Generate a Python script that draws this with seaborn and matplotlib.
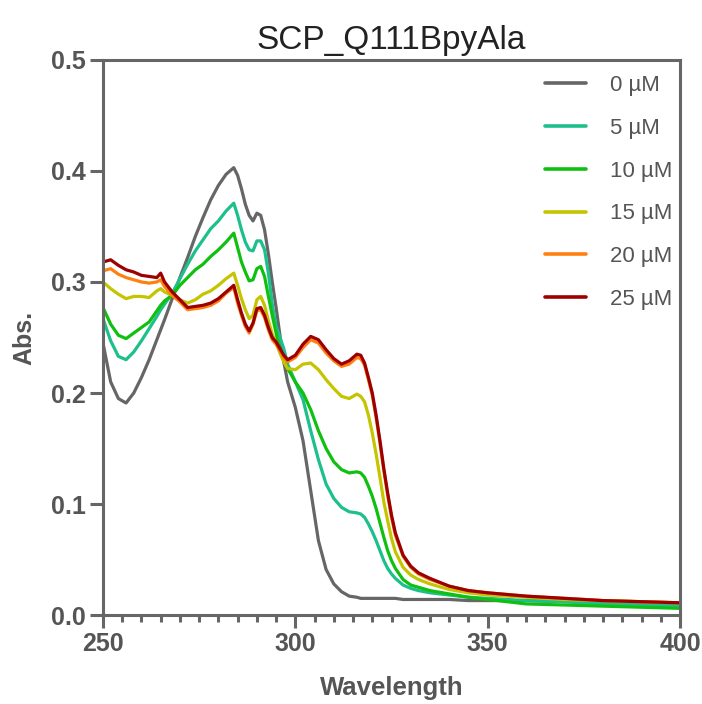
import numpy as np
import pandas as pd
import matplotlib
matplotlib.use("Agg")
import matplotlib.pyplot as plt
import matplotlib.ticker as mticker
import seaborn as sns

# ---------------------------------------------------------------------------
# Data
# ---------------------------------------------------------------------------

wavelength = [250, 252, 254, 256, 258, 260, 262, 264, 265, 266, 268, 270, 272, 274,
              276, 278, 280, 282, 284, 285, 286, 287, 288, 289, 290, 291, 292, 293,
              294, 295, 296, 297, 298, 300, 302, 304, 306, 308, 310, 312, 314, 316,
              317, 318, 319, 320, 321, 322, 323, 324, 325, 326, 328, 330, 332, 335,
              340, 345, 350, 360, 370, 380, 390, 400]

abs_0uM = [0.245, 0.210, 0.195, 0.191, 0.200, 0.214, 0.230, 0.248, 0.257, 0.266, 0.285, 0.304, 0.322, 0.341,
           0.358, 0.374, 0.387, 0.397, 0.403, 0.396, 0.384, 0.370, 0.360, 0.355, 0.362, 0.360, 0.347, 0.325,
           0.300, 0.277, 0.252, 0.228, 0.210, 0.187, 0.157, 0.112, 0.067, 0.041, 0.028, 0.021, 0.017, 0.016,
           0.015, 0.015, 0.015, 0.015, 0.015, 0.015, 0.015, 0.015, 0.015, 0.015, 0.014, 0.014, 0.014, 0.014,
           0.014, 0.013, 0.013, 0.013, 0.012, 0.011, 0.010, 0.009]

abs_5uM = [0.267, 0.247, 0.233, 0.230, 0.237, 0.247, 0.258, 0.269, 0.275, 0.280, 0.290, 0.303, 0.316, 0.328,
           0.338, 0.348, 0.355, 0.364, 0.371, 0.360, 0.347, 0.336, 0.329, 0.328, 0.337, 0.337, 0.329, 0.308,
           0.280, 0.260, 0.250, 0.240, 0.226, 0.210, 0.194, 0.166, 0.140, 0.118, 0.105, 0.097, 0.093, 0.092,
           0.091, 0.088, 0.082, 0.075, 0.067, 0.058, 0.049, 0.042, 0.037, 0.033, 0.027, 0.024, 0.022, 0.020,
           0.018, 0.016, 0.015, 0.013, 0.012, 0.010, 0.009, 0.008]

abs_10uM = [0.277, 0.262, 0.252, 0.249, 0.254, 0.259, 0.264, 0.274, 0.279, 0.283, 0.288, 0.297, 0.304, 0.311,
            0.316, 0.323, 0.329, 0.336, 0.344, 0.331, 0.318, 0.309, 0.301, 0.302, 0.312, 0.314, 0.305, 0.287,
            0.270, 0.254, 0.238, 0.229, 0.222, 0.210, 0.200, 0.185, 0.166, 0.150, 0.138, 0.131, 0.128, 0.129,
            0.128, 0.124, 0.116, 0.107, 0.096, 0.083, 0.070, 0.058, 0.049, 0.042, 0.032, 0.027, 0.025, 0.022,
            0.019, 0.016, 0.014, 0.010, 0.009, 0.008, 0.007, 0.006]

abs_15uM = [0.300, 0.294, 0.289, 0.285, 0.287, 0.287, 0.286, 0.292, 0.294, 0.291, 0.288, 0.284, 0.281, 0.284,
            0.289, 0.292, 0.297, 0.303, 0.308, 0.297, 0.285, 0.275, 0.267, 0.270, 0.284, 0.287, 0.279, 0.265,
            0.253, 0.245, 0.236, 0.228, 0.222, 0.221, 0.226, 0.227, 0.221, 0.212, 0.204, 0.197, 0.195, 0.199,
            0.197, 0.192, 0.180, 0.164, 0.145, 0.124, 0.102, 0.085, 0.069, 0.057, 0.043, 0.036, 0.032, 0.028,
            0.023, 0.020, 0.018, 0.016, 0.014, 0.013, 0.012, 0.011]

abs_20uM = [0.310, 0.312, 0.307, 0.304, 0.302, 0.300, 0.299, 0.300, 0.302, 0.296, 0.288, 0.282, 0.275, 0.276,
            0.277, 0.279, 0.283, 0.290, 0.295, 0.281, 0.270, 0.260, 0.254, 0.262, 0.274, 0.275, 0.268, 0.257,
            0.248, 0.244, 0.238, 0.232, 0.228, 0.232, 0.241, 0.248, 0.245, 0.236, 0.229, 0.224, 0.226, 0.232,
            0.231, 0.225, 0.212, 0.198, 0.178, 0.155, 0.130, 0.108, 0.088, 0.072, 0.053, 0.043, 0.037, 0.032,
            0.026, 0.022, 0.020, 0.017, 0.015, 0.013, 0.012, 0.011]

abs_25uM = [0.318, 0.320, 0.315, 0.311, 0.309, 0.306, 0.305, 0.304, 0.308, 0.300, 0.291, 0.284, 0.277, 0.278,
            0.279, 0.281, 0.285, 0.291, 0.297, 0.284, 0.272, 0.262, 0.256, 0.263, 0.276, 0.277, 0.270, 0.259,
            0.250, 0.246, 0.240, 0.234, 0.230, 0.234, 0.244, 0.251, 0.248, 0.239, 0.231, 0.226, 0.229, 0.235,
            0.234, 0.227, 0.214, 0.200, 0.180, 0.157, 0.132, 0.110, 0.090, 0.074, 0.054, 0.044, 0.038, 0.033,
            0.026, 0.022, 0.020, 0.017, 0.015, 0.013, 0.012, 0.011]

conc_labels = ["0 µM", "5 µM", "10 µM", "15 µM", "20 µM", "25 µM"]
line_colors = ["#666666", "#1DC08C", "#10C010", "#C4C400", "#FF8010", "#9C0000"]

# ---------------------------------------------------------------------------
# Long-form table for seaborn
# ---------------------------------------------------------------------------

series = [abs_0uM, abs_5uM, abs_10uM, abs_15uM, abs_20uM, abs_25uM]
df = pd.concat(
    [pd.DataFrame({"Wavelength": wavelength, "Abs.": vals, "conc": lab})
     for lab, vals in zip(conc_labels, series)],
    ignore_index=True,
)

sns.set_style("ticks")
plt.rcParams["font.family"] = ["Liberation Sans", "DejaVu Sans"]

axis_grey = "#666666"
text_grey = "#555555"

fig = plt.figure(figsize=(7.02, 7.04), dpi=100)
ax = fig.add_axes([0.1467, 0.1264, 0.8220, 0.7884])

sns.lineplot(data=df, x="Wavelength", y="Abs.", hue="conc",
             hue_order=conc_labels, palette=line_colors,
             linewidth=2.3, ax=ax, sort=False)

ax.set_xlim(250, 400)
ax.set_ylim(0, 0.5)
ax.xaxis.set_major_locator(mticker.MultipleLocator(50))
ax.xaxis.set_minor_locator(mticker.MultipleLocator(5))
ax.yaxis.set_major_locator(mticker.MultipleLocator(0.1))
ax.yaxis.set_major_formatter(mticker.FormatStrFormatter("%.1f"))

for side in ["left", "bottom", "top", "right"]:
    ax.spines[side].set_color(axis_grey)
    ax.spines[side].set_linewidth(2.2)

ax.tick_params(axis="both", which="major", length=9.5, width=2.2,
               color=axis_grey, labelcolor=text_grey, labelsize=18, pad=3)
ax.tick_params(axis="x", which="minor", length=5, width=2.2, color=axis_grey)
for lab in ax.get_xticklabels() + ax.get_yticklabels():
    lab.set_fontweight("bold")

ax.set_xlabel("Wavelength", fontsize=18.5, fontweight="bold", color=text_grey, labelpad=14)
ax.set_ylabel("Abs.", fontsize=18, fontweight="bold", color=text_grey, labelpad=10)
ax.set_title("SCP_Q111BpyAla", fontsize=24, color="#222222", pad=8)

leg = ax.legend(loc="upper right", frameon=False, fontsize=16,
                handlelength=1.85, handletextpad=1.05, labelspacing=0.98,
                borderaxespad=0.5, bbox_to_anchor=(1.021, 1.009))
for txt in leg.get_texts():
    txt.set_color(text_grey)
for h in leg.get_lines():
    h.set_linewidth(2.6)

fig.savefig("out.png", dpi=100)
